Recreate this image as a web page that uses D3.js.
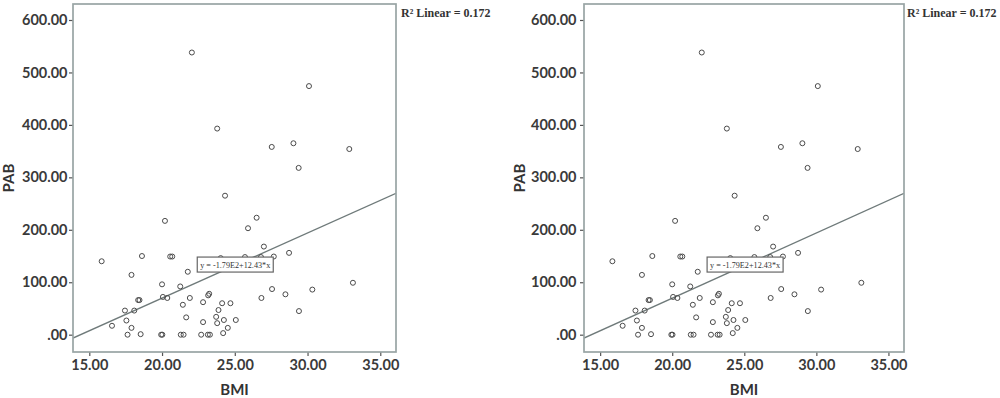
<!DOCTYPE html>
<html>
<head>
<meta charset="utf-8">
<script src="https://cdn.jsdelivr.net/npm/d3@7"></script>
<style>
  html, body { margin: 0; padding: 0; background: #fff; }
  svg { display: block; }
</style>
</head>
<body>
<svg id="chart" width="1000" height="398"></svg>
<script>
// ---- data ----
const bmi = [15.85, 16.56, 17.45, 17.55, 17.63, 17.90, 17.90, 18.09, 18.36, 18.45,
             18.62, 18.53, 19.94, 20.02, 20.00, 20.06, 20.20, 20.36, 20.56, 20.70,
             21.25, 21.29, 21.43, 21.48, 21.66, 21.77, 21.91, 22.69, 22.82, 22.82,
             23.17, 23.24, 23.15, 23.29, 23.72, 23.79, 23.88, 24.13, 24.20, 24.25,
             24.33, 24.52, 24.70, 25.07, 25.91, 26.50, 27.00, 27.68, 28.73, 24.03,
             25.70, 26.80, 27.56, 26.83, 28.48, 29.41, 30.33, 33.12, 22.05, 23.79,
             27.54, 29.03, 29.39, 30.10, 32.87];
const pab = [140, 17, 46, 27, 0, 114, 13, 46, 66, 66,
             150, 1, 0, 0, 96, 72, 217, 70, 149, 149,
             92, 0, 57, 0, 33, 120, 70, 0, 62, 24,
             75, 78, 0, 0, 34, 22, 47, 60, 3, 28,
             265, 13, 60, 28, 203, 223, 168, 149, 156, 146,
             148, 148, 87, 70, 77, 45, 86, 99, 538, 393,
             358, 365, 318, 474, 354];
const xTicks = [15, 20, 25, 30, 35];
const xTickLabels = ["15.00", "20.00", "25.00", "30.00", "35.00"];
const yTicks = [0, 100, 200, 300, 400, 500, 600];
const yTickLabels = [".00", "100.00", "200.00", "300.00", "400.00", "500.00", "600.00"];
const fitIntercept = -179;
const fitSlope = 12.43;
const fitLabel = "y = -1.79E2+12.43*x";
const r2Label = "R\u00B2 Linear = 0.172";
const xTitle = "BMI";
const yTitle = "PAB";

// ---- layout ----
const panels = [
  { left: 73,  right: 396, top: 4, bottom: 352 },
  { left: 584, right: 904, top: 4, bottom: 352 }
];
const xDomain = [13.88, 36.08];
const yDomain = [-33, 630.5];
const boxAnchor = { x: 22.42, y: 148 }; // data position of equation box top-left

const svg = d3.select("#chart");
const font = "Lato, 'Noto Sans', sans-serif";

panels.forEach((p, i) => {
  const x = d3.scaleLinear().domain(xDomain).range([p.left, p.right]);
  const y = d3.scaleLinear().domain(yDomain).range([p.bottom, p.top]);
  const g = svg.append("g");

  const clipId = "clip" + i;
  g.append("clipPath").attr("id", clipId)
    .append("rect").attr("x", p.left).attr("y", p.top)
    .attr("width", p.right - p.left).attr("height", p.bottom - p.top);

  // y axis
  const ya = g.append("g").attr("transform", `translate(${p.left},0)`)
    .call(d3.axisLeft(y).tickValues(yTicks).tickSize(4).tickPadding(i === 0 ? 1.5 : 3.5)
      .tickFormat((d, k) => yTickLabels[k]));
  ya.select(".domain").remove();
  ya.selectAll("line").attr("stroke", "#555").attr("stroke-width", 1.2);
  ya.selectAll("text").attr("font-family", font).attr("font-weight", 700)
    .attr("font-size", 14.5).attr("fill", "#3a3a3a");

  // x axis
  const xa = g.append("g").attr("transform", `translate(0,${p.bottom})`)
    .call(d3.axisBottom(x).tickValues(xTicks).tickSize(4).tickPadding(4)
      .tickFormat((d, k) => xTickLabels[k]));
  xa.select(".domain").remove();
  xa.selectAll("line").attr("stroke", "#555").attr("stroke-width", 1.2);
  xa.selectAll("text").attr("font-family", font).attr("font-weight", 700)
    .attr("font-size", 14.5).attr("fill", "#3a3a3a");

  // fit line
  const lineData = xDomain.map(v => [v, fitIntercept + fitSlope * v]);
  g.append("path")
    .attr("clip-path", `url(#${clipId})`)
    .attr("d", d3.line().x(d => x(d[0])).y(d => y(d[1]))(lineData))
    .attr("fill", "none").attr("stroke", "#6f7a7a").attr("stroke-width", 1.3);

  // points
  g.append("g").selectAll("circle")
    .data(bmi.map((b, k) => [b, pab[k]]))
    .join("circle")
    .attr("cx", d => x(d[0])).attr("cy", d => y(d[1])).attr("r", 2.5)
    .attr("fill", "none").attr("stroke", "#4a4a4a").attr("stroke-width", 1);

  // equation box
  const bx = x(boxAnchor.x), by = y(boxAnchor.y);
  g.append("rect").attr("x", bx).attr("y", by).attr("width", 76).attr("height", 15)
    .attr("fill", "#fff").attr("stroke", "#666").attr("stroke-width", 1.2);
  g.append("text").attr("x", bx + 3).attr("y", by + 10.5)
    .attr("font-family", "'Liberation Serif', serif").attr("font-size", 9)
    .attr("fill", "#333").attr("textLength", 70).attr("lengthAdjust", "spacingAndGlyphs")
    .text(fitLabel);

  // frame
  g.append("rect").attr("x", p.left).attr("y", p.top)
    .attr("width", p.right - p.left).attr("height", p.bottom - p.top)
    .attr("fill", "none").attr("stroke", "#98a4a4").attr("stroke-width", 1.7);

  // R2 label
  g.append("text").attr("x", p.right + (i === 0 ? 5 : 3)).attr("y", 17)
    .attr("font-family", "'Liberation Serif', serif").attr("font-weight", 700)
    .attr("font-size", 12).attr("fill", "#333").text(r2Label);

  // axis titles
  g.append("text").attr("x", (p.left + p.right) / 2).attr("y", 395)
    .attr("text-anchor", "middle").attr("font-family", font).attr("font-weight", 700)
    .attr("font-size", 15).attr("fill", "#333").text(xTitle);
  g.append("text")
    .attr("transform", `translate(${p.left - 59},${(p.top + p.bottom) / 2}) rotate(-90)`)
    .attr("text-anchor", "middle").attr("font-family", font).attr("font-weight", 700)
    .attr("font-size", 15).attr("fill", "#333").text(yTitle);
});
</script>
</body>
</html>
